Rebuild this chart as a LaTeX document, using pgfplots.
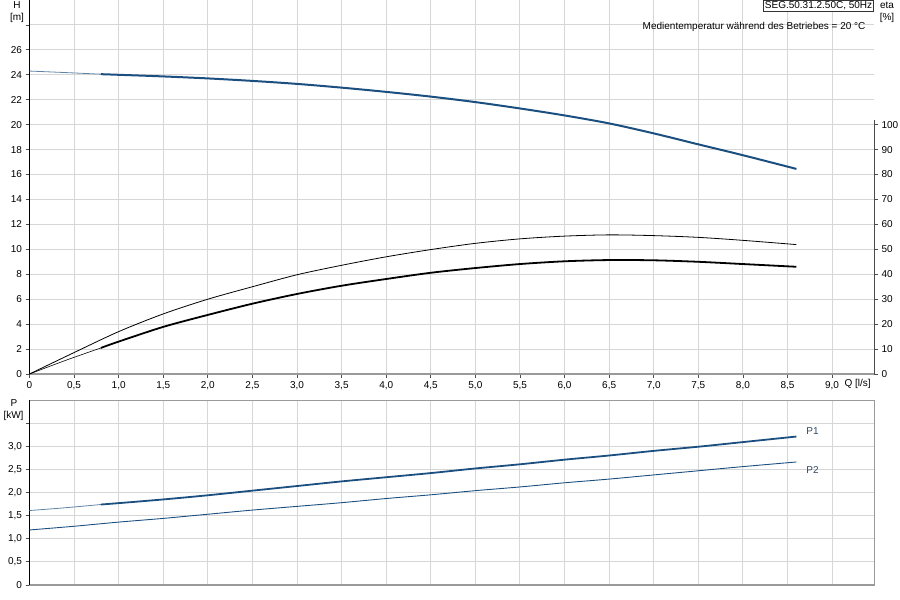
\documentclass[border=0pt]{standalone}
\usepackage{fontspec}
\setmainfont{Liberation Sans}
\usepackage{pgfplots}
\pgfplotsset{compat=1.18}
\definecolor{curveblue}{HTML}{1B4F7F}
\definecolor{gridgray}{HTML}{D6D6D6}
\definecolor{framegray}{HTML}{9A9A9A}
\definecolor{labelblue}{HTML}{2E4A66}

\begin{document}
\begin{tikzpicture}[x=1pt,y=1pt,font=\fontsize{10}{11}\selectfont]
\path[use as bounding box] (0,0) rectangle (900,600);
\pgfplotsset{
  every axis/.append style={
    scale only axis,
    xmin=0, xmax=9.47,
    tick align=outside,
    major tick length=4pt,
    tick style={black!70, line width=0.8pt},
    /pgf/number format/assume math mode=true,
    tick label style={font=\fontsize{10}{11}\selectfont},
  },
}
% H curve (top panel)
\begin{axis}[
  at={(29.5pt,226pt)}, anchor=south west,
  width=844.5pt, height=374pt,
  ymin=0, ymax=30,
  axis lines*=left,
  x axis line style={framegray, line width=1.6pt},
  y axis line style={black, line width=1pt},
  grid=major, grid style={gridgray, line width=1pt},
  xtick={0,0.5,...,9},
  xticklabels={0,{0,5},{1,0},{1,5},{2,0},{2,5},{3,0},{3,5},{4,0},{4,5},{5,0},{5,5},{6,0},{6,5},{7,0},{7,5},{8,0},{8,5},{9,0}},
  ytick={0,2,...,28},
  yticklabels={0,2,4,6,8,10,12,14,16,18,20,22,24,26,{}},
  clip=false,
]
\draw[framegray, line width=1pt] (rel axis cs:0,1) -- (rel axis cs:1,1);
\addplot[curveblue!70, line width=0.8pt, smooth] coordinates {
  (0,24.3) (0.4,24.18) (0.8,24.05)
};
\addplot[curveblue, line width=2pt, smooth] coordinates {
  (0.8,24.05) (1.0,24.0) (1.5,23.87) (2.0,23.71) (2.5,23.51) (3.0,23.27)
  (3.5,22.97) (4.0,22.63) (4.5,22.25) (5.0,21.81) (5.5,21.3) (6.0,20.74)
  (6.5,20.1) (7.0,19.3) (7.5,18.42) (8.0,17.55) (8.6,16.45)
};
\end{axis}
% eta curves (top panel, right scale)
\begin{axis}[
  at={(29.5pt,226pt)}, anchor=south west,
  width=844.5pt, height=374pt,
  ymin=0, ymax=150,
  axis x line=none,
  axis y line*=right,
  y axis line style={draw=none},
  ytick={0,10,...,100},
  clip=false,
]
\draw[black!70, line width=1pt] (axis cs:9.47,0) -- (axis cs:9.47,102);
\addplot[black, line width=0.8pt, smooth] coordinates {
  (0,0) (0.5,8.6) (1.0,17.0) (1.5,24.1) (2.0,30.0) (2.5,35.0) (3.0,39.8)
  (3.5,43.6) (4.0,47.0) (4.5,49.9) (5.0,52.4) (5.5,54.2) (6.0,55.3)
  (6.5,55.8) (7.0,55.5) (7.5,54.8) (8.0,53.6) (8.6,51.9)
};
\addplot[black, line width=0.6pt, smooth] coordinates {
  (0,0) (0.4,5.4) (0.8,10.45)
};
\addplot[black, line width=1.8pt, smooth] coordinates {
  (0.8,10.45) (1.0,13.0) (1.5,18.9) (2.0,23.7) (2.5,28.2) (3.0,32.1)
  (3.5,35.4) (4.0,38.1) (4.5,40.6) (5.0,42.5) (5.5,44.1) (6.0,45.2)
  (6.5,45.7) (7.0,45.6) (7.5,45.0) (8.0,44.1) (8.6,43.0)
};
\end{axis}
% P curves (bottom panel)
\begin{axis}[
  at={(29.5pt,15pt)}, anchor=south west,
  width=844.5pt, height=185pt,
  ymin=0, ymax=4.0,
  axis line style={framegray, line width=1pt},
  grid=major, grid style={gridgray, line width=1pt},
  xtick={0,0.5,...,9}, xticklabels={},
  xtick style={draw=none},
  ytick={0,0.5,...,3.5},
  yticklabels={0,{0,5},{1,0},{1,5},{2,0},{2,5},{3,0},{}},
  ytick pos=left,
  clip=false,
]
\draw[black, line width=1pt] (rel axis cs:0,0) -- (rel axis cs:0,1);
\addplot[curveblue!70, line width=0.8pt, smooth] coordinates {
  (0,1.61) (0.4,1.67) (0.8,1.74)
};
\addplot[curveblue, line width=1.8pt, smooth] coordinates {
  (0.8,1.74) (1.0,1.77) (1.5,1.85) (2.0,1.94) (2.5,2.04) (3.0,2.14)
  (3.5,2.24) (4.0,2.33) (4.5,2.42) (5.0,2.52) (5.5,2.61) (6.0,2.71)
  (6.5,2.80) (7.0,2.90) (7.5,2.99) (8.0,3.09) (8.6,3.21)
};
\addplot[curveblue, line width=0.9pt, smooth] coordinates {
  (0,1.19) (0.5,1.27) (1.0,1.36) (1.5,1.44) (2.0,1.53) (2.5,1.62)
  (3.0,1.70) (3.5,1.78) (4.0,1.87) (4.5,1.95) (5.0,2.04) (5.5,2.12)
  (6.0,2.21) (6.5,2.29) (7.0,2.38) (7.5,2.47) (8.0,2.56) (8.6,2.66)
};
\node[labelblue] at (axis cs:8.78,3.32) {P1};
\node[labelblue] at (axis cs:8.78,2.48) {P2};
\end{axis}
% axis titles and notes
\node at (17,595) {H};
\node at (17,582.5) {[m]};
\node at (887,595) {eta};
\node at (887,582.5) {[\%]};
\node at (14,196.5) {P};
\node at (13.5,184) {[kW]};
\node[anchor=west] at (841,216) {Q [l/s]};
\node[draw=black!80, line width=0.6pt, anchor=north east, inner sep=1.5pt, fill=white] at (874,600) {SEG.50.31.2.50C, 50Hz};
\node[anchor=east] at (869,573.5) {Medientemperatur während des Betriebes = 20 °C};
\end{tikzpicture}
\end{document}
